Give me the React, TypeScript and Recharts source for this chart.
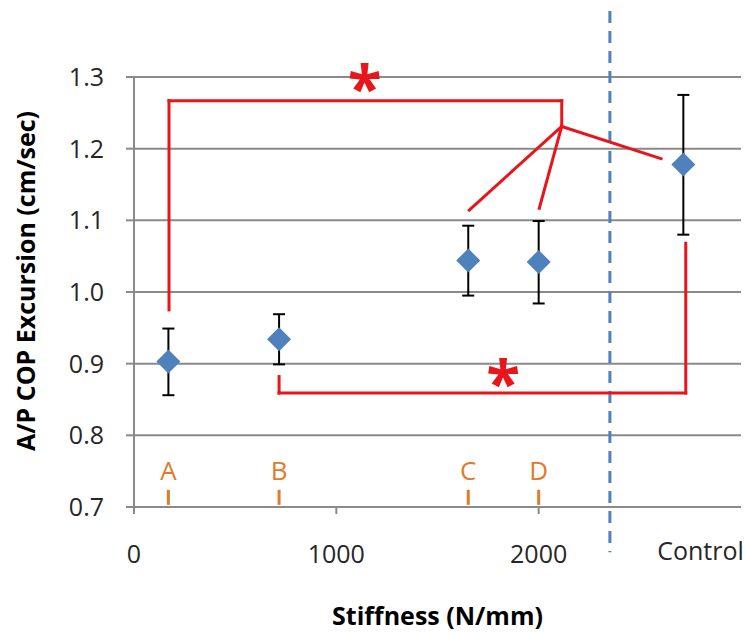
import React from 'react';
import {
  ScatterChart,
  Scatter,
  XAxis,
  YAxis,
  CartesianGrid,
  ErrorBar,
  ReferenceLine,
  ReferenceDot,
  Label,
} from 'recharts';

// ---------- data ----------
const stiffness = [170, 717, 1652, 2000, 2715];
const meanExcursion = [0.903, 0.934, 1.044, 1.042, 1.178];
const upperBound = [0.949, 0.969, 1.0925, 1.099, 1.275];
const lowerBound = [0.856, 0.899, 0.995, 0.984, 1.08];

const groupLabels = ['A', 'B', 'C', 'D'];
const groupLabelY = 0.751;
const groupTickY = [0.724, 0.703];

const xTicks = [0, 1000, 2000];
const yTicks = [0.7, 0.8, 0.9, 1.0, 1.1, 1.2, 1.3];
const controlLabel = 'Control';
const controlLabelPos = [2800, 0.6386];

const dividerX = 2352;
const dividerY = [1.392, 0.637];

// significance annotations (data units)
const upperBracket = [
  [173, 0.975],
  [173, 1.267],
  [2114, 1.267],
  [2114, 1.231],
];
const fanOrigin = [2114, 1.231];
const fanTargets = [
  [1657, 1.1144],
  [2003, 1.1168],
  [2605, 1.186],
];
const lowerBracket = [
  [717, 0.882],
  [717, 0.859],
  [2727, 0.859],
  [2727, 1.068],
];
const asterisks = [
  [1140, 1.297],
  [1825, 0.8866],
];

const xTitle = 'Stiffness (N/mm)';
const yTitle = 'A/P COP Excursion (cm/sec)';

// ---------- styles ----------
const FONT = '"Open Sans", sans-serif';
const BLUE = '#4F81BD';
const RED = '#E8151B';
const ORANGE = '#E17B2A';
const GRID = '#8A8A8A';

const data = stiffness.map((x, i) => ({
  x,
  y: meanExcursion[i],
  err: [meanExcursion[i] - lowerBound[i], upperBound[i] - meanExcursion[i]],
}));

const Diamond = (props: any) => {
  const { cx, cy } = props;
  const r = 12;
  return (
    <polygon
      points={`${cx},${cy - r} ${cx + r},${cy} ${cx},${cy + r} ${cx - r},${cy}`}
      fill={BLUE}
    />
  );
};

const makeText =
  (text: string, color: string, size: number, weight: string | number, dy: string) =>
  (props: any) =>
    (
      <text
        x={props.cx}
        y={props.cy}
        dy={dy}
        textAnchor="middle"
        fill={color}
        fontSize={size}
        fontWeight={weight}
        fontFamily={FONT}
      >
        {text}
      </text>
    );

const YTitle = (props: any) => {
  const vb = props.viewBox || {};
  const x = (vb.x || 0) + 26;
  const y = (vb.y || 0) + (vb.height || 0) / 2 - 11;
  return (
    <text
      x={x}
      y={y}
      transform={`rotate(-90, ${x}, ${y})`}
      textAnchor="middle"
      dy="0.36em"
      fontSize={25}
      fontWeight={700}
      fill="#000"
      fontFamily={FONT}
    >
      {yTitle}
    </text>
  );
};

const segs = (pts: number[][]) => {
  const out: { x: number; y: number }[][] = [];
  for (let i = 0; i < pts.length - 1; i++) {
    out.push([
      { x: pts[i][0], y: pts[i][1] },
      { x: pts[i + 1][0], y: pts[i + 1][1] },
    ]);
  }
  return out;
};

export default function App() {
  const redSegments = [
    ...segs(upperBracket),
    ...fanTargets.map((t) => [
      { x: fanOrigin[0], y: fanOrigin[1] },
      { x: t[0], y: t[1] },
    ]),
    ...segs(lowerBracket),
  ];

  return (
    <div style={{ position: 'absolute', left: 0, top: 0, width: 745, height: 633, background: '#fff' }}>
      <ScatterChart
        width={745}
        height={633}
        margin={{ top: 77, right: 4, bottom: 0, left: 0 }}
        style={{ fontFamily: FONT }}
      >
        <CartesianGrid horizontal vertical={false} stroke={GRID} strokeWidth={2} />
        <XAxis
          type="number"
          dataKey="x"
          domain={[0, 3000]}
          ticks={xTicks}
          height={126}
          tickSize={7}
          tickMargin={31}
          axisLine={{ stroke: GRID, strokeWidth: 2 }}
          tickLine={{ stroke: GRID, strokeWidth: 2 }}
          tick={{ fontSize: 25, fill: '#262626', fontFamily: FONT }}
          allowDataOverflow
        >
          <Label
            value={xTitle}
            position="insideBottom"
            offset={8}
            style={{ fontSize: 25, fontWeight: 700, fill: '#000', fontFamily: FONT }}
          />
        </XAxis>
        <YAxis
          type="number"
          dataKey="y"
          domain={[0.7, 1.3]}
          ticks={yTicks}
          width={134}
          tickSize={8}
          tickMargin={22}
          tickFormatter={(v: number) => v.toFixed(1)}
          axisLine={{ stroke: GRID, strokeWidth: 2 }}
          tickLine={{ stroke: GRID, strokeWidth: 2 }}
          tick={{ fontSize: 25, fill: '#262626', fontFamily: FONT }}
          allowDataOverflow
        >
          <Label value={yTitle} position="insideLeft" content={<YTitle />} />
        </YAxis>

        <ReferenceLine
          segment={[
            { x: dividerX, y: dividerY[0] },
            { x: dividerX, y: dividerY[1] },
          ]}
          stroke={BLUE}
          strokeWidth={3}
          strokeDasharray="12 8"
          ifOverflow="visible"
        />

        {redSegments.map((s, i) => (
          <ReferenceLine
            key={'r' + i}
            segment={s}
            stroke={RED}
            strokeWidth={3}
            strokeLinecap="square"
            ifOverflow="visible"
          />
        ))}

        {groupLabels.map((g, i) => (
          <ReferenceLine
            key={'ot' + i}
            segment={[
              { x: stiffness[i], y: groupTickY[0] },
              { x: stiffness[i], y: groupTickY[1] },
            ]}
            stroke={ORANGE}
            strokeWidth={3}
            ifOverflow="visible"
          />
        ))}

        {groupLabels.map((g, i) => (
          <ReferenceDot
            key={'ol' + i}
            x={stiffness[i]}
            y={groupLabelY}
            r={0}
            ifOverflow="visible"
            shape={makeText(g, ORANGE, 26, 400, '0.36em')}
          />
        ))}

        {asterisks.map((a, i) => (
          <ReferenceDot
            key={'as' + i}
            x={a[0]}
            y={a[1]}
            r={0}
            ifOverflow="visible"
            shape={makeText('*', RED, 62, 700, '0.52em')}
          />
        ))}

        <ReferenceDot
          x={controlLabelPos[0]}
          y={controlLabelPos[1]}
          r={0}
          ifOverflow="visible"
          shape={makeText(controlLabel, '#262626', 25, 400, '0.36em')}
        />

        <Scatter data={data} shape={Diamond} isAnimationActive={false}>
          <ErrorBar dataKey="err" direction="y" width={6} stroke="#000" strokeWidth={2} />
        </Scatter>
      </ScatterChart>
    </div>
  );
}
